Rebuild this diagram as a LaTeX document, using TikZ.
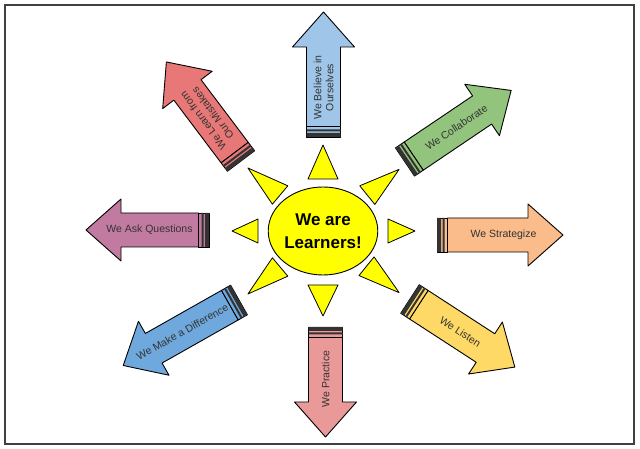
\documentclass[tikz,border=0pt]{standalone}
\usepackage{fontspec}
\setmainfont{Liberation Sans}
\usepackage{tikz}
\usetikzlibrary{shapes.geometric}
\definecolor{MistakeRed}{HTML}{E87777}
\definecolor{BelieveBlue}{HTML}{9FC5E8}
\definecolor{CollabGreen}{HTML}{93C47D}
\definecolor{AskPink}{HTML}{C27BA0}
\definecolor{StrategyPeach}{HTML}{F9BC8A}
\definecolor{DifferenceBlue}{HTML}{6FA8DC}
\definecolor{PracticePink}{HTML}{EA9999}
\definecolor{ListenYellow}{HTML}{FFD966}
\definecolor{SunYellow}{HTML}{FFFF00}
\definecolor{Band}{HTML}{333333}
% crayon arrow: name, tail point, direction, length, colour, text turn, text position, text
\newcommand{\crayon}[8]{%
  \begin{scope}[shift={#2},rotate=#3]
    \filldraw[crayon edge,fill=#5] (10.5,-17) -- ({#4-35},-17) -- ({#4-35},-31) -- (#4,0)
      -- ({#4-35},31) -- ({#4-35},17) -- (10.5,17) -- cycle;
    \filldraw[crayon edge,fill=#5] (0,-17) rectangle (10.5,17);
    \fill[Band] (0,-17) rectangle (4,17) (5.5,-17) rectangle (7.5,17);
    \node[crayon label,rotate={#3+#6}] (#1) at (#7,0) {#8};
  \end{scope}}

\begin{document}
\begin{tikzpicture}[x=1pt,y=1pt,
    crayon edge/.style={draw=black,line width=0.9pt,line join=round},
    crayon label/.style={align=center,inner sep=0pt,text=black!80,
                         font=\fontsize{10.5}{12}\selectfont},
    ray/.style={draw=black,line width=0.8pt,fill=SunYellow,line join=round},
    sunbox/.style={ellipse,draw=black,line width=0.9pt,fill=SunYellow,
                   minimum width=106pt,minimum height=88pt,inner sep=0pt,
                   align=center,font=\fontsize{17}{23}\selectfont\bfseries}]
    \useasboundingbox (0,0) rectangle (640,449);
    \draw[black!75,line width=1.6pt] (5,5) rectangle (634,444);
    % sun rays
    \foreach \a/\b/\t/\h in {0/65/92/12,39/57/98/12,90/52/86/15,140/56/98/12,
                             180/65/91/12,220/56/98/12,270/54/85/15,321/56/98/12}
      \filldraw[ray,shift={(323,218)},rotate=\a] (\b,-\h) -- (\t,0) -- (\b,\h) -- cycle;
    \node[sunbox] (sun) at (323,218) {We are\\Learners!};
    % crayons
    \crayon{believe}{(323.5,312)}{90}{125}{BelieveBlue}{0}{49.5}{We Believe in\\Ourselves}
    \crayon{mistakes}{(241,288)}{127}{124}{MistakeRed}{0}{55}{We Learn from\\Our Mistakes}
    \crayon{collab}{(405,287)}{34}{128}{CollabGreen}{0}{62}{We Collaborate}
    \crayon{ask}{(209,219)}{180}{123}{AskPink}{180}{59.5}{We Ask Questions}
    \crayon{strategize}{(437,214)}{0}{126}{StrategyPeach}{0}{66.5}{We Strategize}
    \crayon{difference}{(239,149)}{209.5}{133}{DifferenceBlue}{180}{65}{We Make a Difference}
    \crayon{practice}{(325.5,122)}{270}{110}{PracticePink}{180}{52}{We Practice}
    \crayon{listen}{(410,150)}{-33}{125}{ListenYellow}{0}{60}{We Listen}
\end{tikzpicture}
\end{document}
